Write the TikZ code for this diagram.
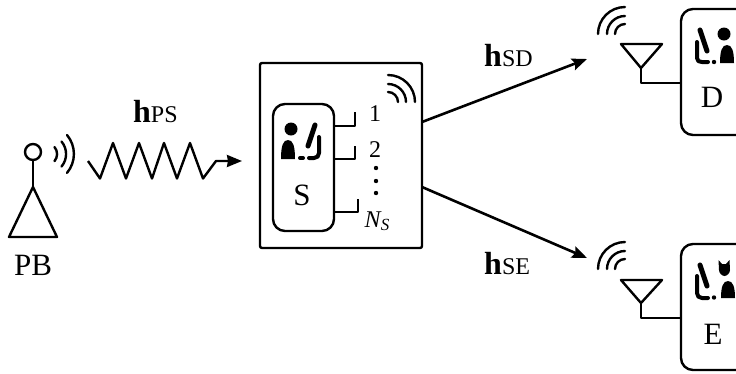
\documentclass[tikz,border=0pt]{standalone}
\usepackage{fontspec}
\setmainfont{Liberation Serif}
\usetikzlibrary{arrows.meta}
\tikzset{
  x=1pt,y=-1pt,
  ln/.style={line width=2.4pt,line join=round},
  wave/.style={line width=2.4pt,line cap=round},
  seatbar/.style={line width=5pt,line cap=round},
  seat/.style={line width=4pt,line cap=round,line join=round},
  outerbox/.style={draw,line width=2.4pt,rounded corners=2pt,inner sep=0pt,outer sep=0pt},
  userbox/.style={draw,line width=2.4pt,rounded corners=12pt,inner sep=0pt,outer sep=0pt},
  big/.style={font=\fontsize{31}{33}\selectfont,inner sep=0pt},
  small/.style={font=\fontsize{24}{26}\selectfont,inner sep=0pt},
  arrow/.style={line width=2.6pt,-{Stealth[length=15pt,width=12pt,inset=2.5pt]}},
}
\newcommand{\chanlabel}[1]{{\fontsize{32}{34}\selectfont\textbf{h}}{\fontsize{24}{26}\selectfont #1}}
\begin{document}
\begin{tikzpicture}
\useasboundingbox (0,0) rectangle (736,373);
\clip (0,0) rectangle (736,373);
% PB
\node[draw,circle,ln,minimum size=16pt,inner sep=0pt,outer sep=0pt] (pbhead) at (33,152) {};
\coordinate (pbtop) at (33,187);
\coordinate (pbl) at (9,237);
\coordinate (pbr) at (57,237);
\draw[ln] (pbhead.south) -- (pbtop);
\draw[ln] (pbtop) -- (pbl) -- (pbr) -- cycle;
\node[big] (pb) at (33,265) {PB};
\draw[wave] (54.5,147) arc[start angle=40,end angle=-40,radius=11pt];
\draw[wave] (61.5,141.5) arc[start angle=40,end angle=-40,radius=19.5pt];
\draw[wave] (67,135) arc[start angle=40,end angle=-40,radius=29.5pt];
% zigzag
\coordinate (zs) at (88,161);
\coordinate (ze) at (242,161);
\draw[ln,-{Stealth[length=15pt,width=12pt,inset=1pt]}] (zs) -- (100,178.5) -- (113,143) -- (126,178.5) -- (139,143) -- (152,178.5) -- (164,143) -- (177,178.5) -- (190,143) -- (203,178.5) -- (216,161) -- (ze);
\node[inner sep=0pt,anchor=base west] (hps) at (133,122) {\chanlabel{PS}};
% S
\node[outerbox,minimum width=162pt,minimum height=185pt] (sbox) at (341,155.5) {};
\node[userbox,minimum width=61pt,minimum height=127pt] (suser) at (303.5,167.5) {};
\node[big] (s) at (302,195) {S};
\coordinate (a1) at (355,112);
\coordinate (a2) at (355,146);
\coordinate (a3) at (358,199);
\coordinate (a1s) at (suser.east|-0,126);
\coordinate (a2s) at (suser.east|-0,159);
\coordinate (a3s) at (suser.east|-0,212);
\draw[ln] (a1s) -| (a1);
\draw[ln] (a2s) -| (a2);
\draw[ln] (a3s) -| (a3);
\node[small] (n1) at (375,114) {1};
\node[small] (n2) at (375,150) {2};
\fill (376,168) circle (2.2pt) (376,181) circle (2.2pt) (376,193) circle (2.2pt);
\node[inner sep=0pt,font=\fontsize{24}{26}\selectfont] (ns) at (377,221) {\textit{N}\kern-1pt\raisebox{-3pt}{\fontsize{17}{18}\selectfont\textit{S}}};
% S wifi
\draw[wave] (388,92) arc[start angle=90,end angle=0,radius=10pt];
\draw[wave] (388,84) arc[start angle=90,end angle=0,radius=18pt];
\draw[wave] (388,75) arc[start angle=90,end angle=0,radius=27pt];
% S person
\fill (291,129) circle (6.5pt);
\fill (281,159) .. controls (281,146) and (283,140) .. (288,140) .. controls (293,140) and (295,146) .. (295,159) -- cycle;
\draw[seat] (300,158) -- (303,158);
\draw[seatbar] (308,146) -- (315,125);
\draw[seat] (319,137) -- (319,153) .. controls (319,156) and (317,158) .. (314,158) -- (309,158);
% links
\coordinate (sd) at (422,122);
\coordinate (se) at (422,187);
\coordinate (dt) at (587,59);
\coordinate (et) at (587,258);
\draw[arrow] (sd) -- (dt);
\draw[arrow] (se) -- (et);
\node[inner sep=0pt,anchor=base west] (hsd) at (484,66) {\chanlabel{SD}};
\node[inner sep=0pt,anchor=base west] (hse) at (484,274) {\chanlabel{SE}};
% D
\node[userbox,minimum width=90pt,minimum height=126pt] (dbox) at (726,72) {};
\node[big] (d) at (712,97) {D};
\coordinate (dl) at (621,44);
\coordinate (dr) at (662,44);
\coordinate (da) at (641,68);
\coordinate (dc) at (641,83);
\draw[ln] (dl) -- (dr) -- (da) -- cycle;
\draw[ln] (da) -- (dc) -- (dbox.west|-dc);
\draw[wave] (615,34) arc[start angle=180,end angle=90,radius=10pt];
\draw[wave] (607,34) arc[start angle=180,end angle=90,radius=18pt];
\draw[wave] (598,34) arc[start angle=180,end angle=90,radius=27pt];
\fill (724,34) circle (6.5pt);
\fill (720,63) .. controls (720,51) and (722,45) .. (727,45) .. controls (732,45) and (734,51) .. (734,63) -- cycle;
\fill (714,62) circle (2.2pt);
\draw[seatbar] (700,30) -- (707,51);
\draw[seat] (697,42) -- (697,58) .. controls (697,61) and (699,62) .. (702,62) -- (708,62);
% E
\node[userbox,minimum width=90pt,minimum height=126pt] (ebox) at (726,307) {};
\node[big] (e) at (713,334) {E};
\coordinate (el) at (621,280);
\coordinate (er) at (662,280);
\coordinate (ea) at (641,303);
\coordinate (ec) at (641,318);
\draw[ln] (el) -- (er) -- (ea) -- cycle;
\draw[ln] (ea) -- (ec) -- (ebox.west|-ec);
\draw[wave] (615,269) arc[start angle=180,end angle=90,radius=10pt];
\draw[wave] (607,269) arc[start angle=180,end angle=90,radius=18pt];
\draw[wave] (598,269) arc[start angle=180,end angle=90,radius=27pt];
\fill (718.5,260) -- (722,264) -- (726,264) -- (729.5,260) -- (730,270) .. controls (730,273) and (727,276) .. (724.5,276) .. controls (722,276) and (719,273) .. (719,270) -- cycle;
\fill (721,298) .. controls (721,287) and (723,281) .. (728,281) .. controls (733,281) and (735,287) .. (735,298) -- cycle;
\fill (714,297.5) circle (2.2pt);
\draw[seatbar] (700,265) -- (707,286);
\draw[seat] (697,276) -- (697,293) .. controls (697,296) and (699,298) .. (702,298) -- (708,298);
\end{tikzpicture}
\end{document}
